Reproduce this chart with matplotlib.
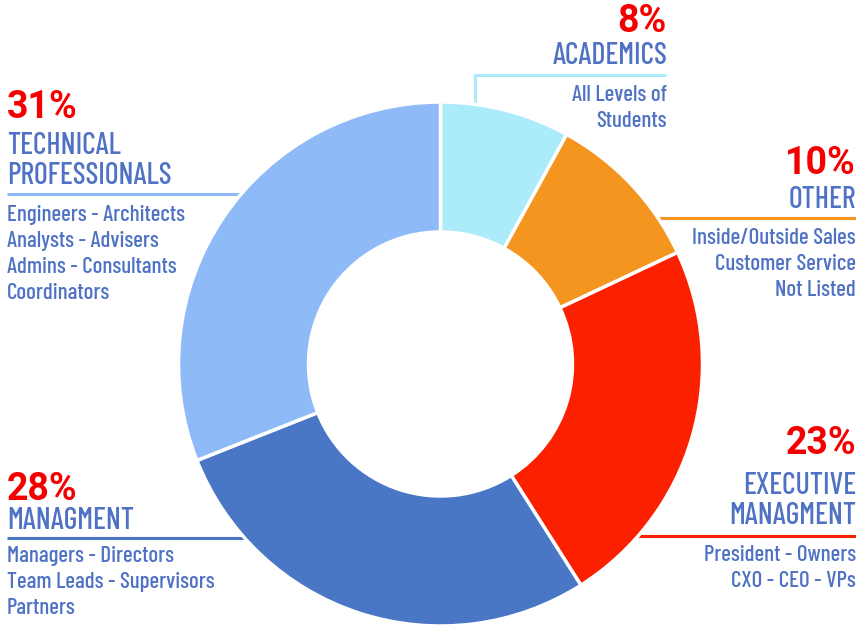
import matplotlib
matplotlib.use('Agg')
import matplotlib.pyplot as plt

# data
categories = ['ACADEMICS', 'OTHER', 'EXECUTIVE\nMANAGMENT', 'MANAGMENT', 'TECHNICAL\nPROFESSIONALS']
shares = [8, 10, 23, 28, 31]
details = [
    'All Levels of\nStudents',
    'Inside/Outside Sales\nCustomer Service\nNot Listed',
    'President - Owners\nCXO - CEO - VPs',
    'Managers - Directors\nTeam Leads - Supervisors\nPartners',
    'Engineers - Architects\nAnalysts - Advisers\nAdmins - Consultants\nCoordinators',
]
slice_colors = ['#ABEBFA', '#F3951F', '#FA2000', '#4A76C6', '#8FBAF8']

TEXT_BLUE = '#4F72C4'
PCT_RED = '#F50000'
NARROW = ['Barlow Condensed', 'DejaVu Sans']

W, H = 856, 625
fig = plt.figure(figsize=(W / 100, H / 100), dpi=100)
ax = fig.add_axes([0, 0, 1, 1])

cx, cy, r_out = 440.5, H - 364, 262

# leader lines (drawn under the donut, the wedges hide the inner part)
def hline(y, x0, x1, color):
    ax.plot([x0, x1], [H - y, H - y], color=color, lw=2.2, zorder=1, solid_capstyle='butt')

hline(75, 475, 666, slice_colors[0])
ax.plot([475, 475], [H - 75, H - 110], color=slice_colors[0], lw=2.2, zorder=1)
hline(218, 640, 856, slice_colors[1])
hline(536, 630, 856, slice_colors[2])
hline(538, 7, 300, slice_colors[3])
hline(194, 7, 300, slice_colors[4])

ax.pie(shares, colors=slice_colors, startangle=90, counterclock=False,
       center=(cx, cy), radius=r_out, frame=True,
       wedgeprops=dict(width=130, edgecolor='white', linewidth=2.5, zorder=2))
ax.set_xlim(0, W)
ax.set_ylim(0, H)
ax.set_aspect('equal')
ax.axis('off')

# label blocks: (x, align, pct_y, head_y, body_y)
layout = [
    (667, 'right', 22, 56, 108),
    (856, 'right', 163, 200, 264),
    (856, 'right', 444, 501, 568),
    (7, 'left', 489, 521, 582),
    (7, 'left', 107, 161, 254),
]

for (x, ha, py, hy, by), cat, pct, det in zip(layout, categories, shares, details):
    ax.text(x, H - py, f'{pct}%', ha=ha, va='center', color=PCT_RED,
            fontsize=27, fontweight='bold', family=['Roboto', 'DejaVu Sans'])
    ax.text(x, H - hy, cat, ha=ha, va='center', color=TEXT_BLUE,
            fontsize=21.5, fontweight='medium', family=NARROW, linespacing=1.12, multialignment=ha)
    ax.text(x, H - by, det, ha=ha, va='center', color=TEXT_BLUE,
            fontsize=16.5, fontweight='medium', family=NARROW, linespacing=1.38, multialignment=ha)

fig.savefig('out.png', dpi=100)
